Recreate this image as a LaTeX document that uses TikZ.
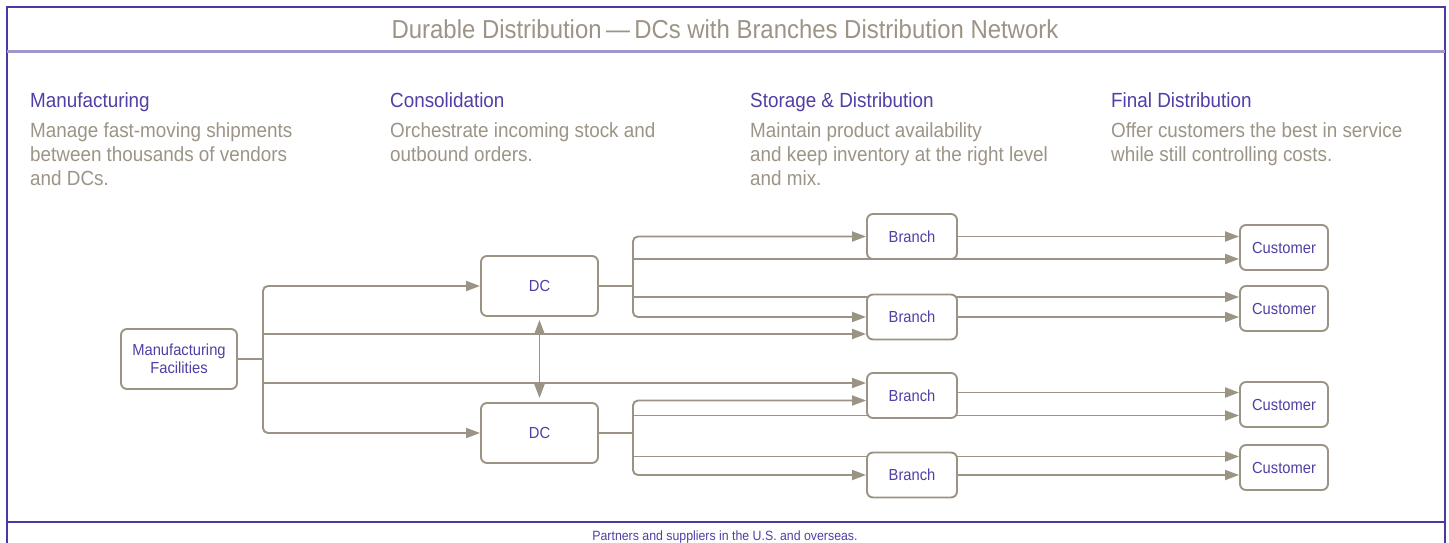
\documentclass[tikz,border=0pt]{standalone}
\usepackage{fontspec}
\setmainfont[FakeStretch=0.92]{Liberation Sans}
\usetikzlibrary{arrows.meta,calc}
\definecolor{framepurple}{RGB}{76,56,164}
\definecolor{lightpurple}{RGB}{160,150,204}
\definecolor{txtpurple}{RGB}{82,62,165}
\definecolor{warmgray}{RGB}{156,148,134}
\definecolor{linegray}{RGB}{155,147,132}
\pgfdeclarelayer{back}
\pgfdeclarelayer{bg}
\pgfsetlayers{back,bg,main}
\begin{document}
\begin{tikzpicture}[x=1pt,y=-1pt,
  box/.style={draw=linegray, line width=1.9pt, rounded corners=6pt, fill=white, text=txtpurple,
    font=\fontsize{16}{18}\selectfont, align=center, inner sep=0pt},
  dcbox/.style={box, minimum width=117pt, minimum height=60pt},
  brbox/.style={box, minimum width=90pt, minimum height=45pt},
  cubox/.style={box, minimum width=88pt, minimum height=45pt},
  conn/.style={draw=linegray, line width=1.9pt},
  arr/.style={conn, -{Triangle[length=14pt,width=10pt]}},
  arrboth/.style={conn, {Triangle[length=14pt,width=10pt]}-{Triangle[length=14pt,width=10pt]}},
  framel/.style={draw=framepurple, line width=1.6pt},
  headtxt/.style={anchor=base west, inner sep=0pt, text=txtpurple, font=\fontsize{20.5}{24}\selectfont},
  bodytxt/.style={anchor=base west, inner sep=0pt, text=warmgray, font=\fontsize{20.5}{24}\selectfont}
]
\useasboundingbox (0,0) rectangle (1449,543);
\begin{pgfonlayer}{back}
\fill[white] (0,0) rectangle (1449,543);
\end{pgfonlayer}

% frame
\draw[framel] (6.7,543) -- (6.7,7.3) -- (1445,7.3) -- (1445,543);
\draw[draw=lightpurple, line width=3pt] (6.7,52) -- (1445,52);
\draw[framel] (6.7,522) -- (1445,522);

% title and footer
\node[inner sep=0pt, text=warmgray, font=\fontsize{26}{30}\selectfont] (title) at (725,29.5)
  {Durable Distribution\,—\,DCs with Branches Distribution Network};
\node[anchor=base, inner sep=0pt, text=txtpurple, font=\fontsize{13.4}{16}\selectfont] (footer) at (725,540.5)
  {Partners and suppliers in the U.S. and overseas.};

% column texts
\node[headtxt] (h1) at (30,107.3) {Manufacturing};
\node[bodytxt] (p11) at (30,137.3) {Manage fast-moving shipments};
\node[bodytxt] (p12) at (30,161.5) {between thousands of vendors};
\node[bodytxt] (p13) at (30,185.5) {and DCs.};

\node[headtxt] (h2) at (390,107.3) {Consolidation};
\node[bodytxt] (p21) at (390,137.3) {Orchestrate incoming stock and};
\node[bodytxt] (p22) at (390,161.5) {outbound orders.};

\node[headtxt] (h3) at (750,107.3) {Storage \& Distribution};
\node[bodytxt] (p31) at (750,137.3) {Maintain product availability};
\node[bodytxt] (p32) at (750,161.5) {and keep inventory at the right level};
\node[bodytxt] (p33) at (750,185.5) {and mix.};

\node[headtxt] (h4) at (1111,107.3) {Final Distribution};
\node[bodytxt] (p41) at (1111,137.3) {Offer customers the best in service};
\node[bodytxt] (p42) at (1111,161.5) {while still controlling costs.};

% nodes
\node[box, minimum width=116pt, minimum height=60pt] (mf) at (179,359) {Manufacturing\\Facilities};
\node[dcbox] (dc1) at (539.5,286) {DC};
\node[dcbox] (dc2) at (539.5,433) {DC};
\node[brbox] (b1) at (912,236.5) {Branch};
\node[brbox] (b2) at (912,317) {Branch};
\node[brbox] (b3) at (912,395.5) {Branch};
\node[brbox] (b4) at (912,475) {Branch};
\node[cubox] (c1) at (1284,247.5) {Customer};
\node[cubox] (c2) at (1284,308.5) {Customer};
\node[cubox] (c3) at (1284,404.5) {Customer};
\node[cubox] (c4) at (1284,467.5) {Customer};

% helper coordinates
\coordinate (mt) at ($(mf.east)+(25,0)$);
\coordinate (d1t) at ($(dc1.east)+(34,0)$);
\coordinate (d2t) at ($(dc2.east)+(34,0)$);
\coordinate (b2m) at ($(b2.west)+(0,17)$);
\coordinate (b3m) at ($(b3.west)+(0,-12.5)$);
\coordinate (b3d) at ($(b3.west)+(0,5)$);
\coordinate (b3r) at ($(b3.east)+(0,-3)$);
\coordinate (c1d) at ($(c1.west)+(0,11.5)$);
\coordinate (c2d) at ($(c2.west)+(0,-11.5)$);
\coordinate (c3d) at ($(c3.west)+(0,11)$);
\coordinate (c4d) at ($(c4.west)+(0,-11)$);

\begin{pgfonlayer}{bg}
% manufacturing fan
\draw[conn] (mf.east) -- (mt);
\draw[arr, rounded corners=5pt] (mt) |- (dc1.west);
\draw[arr, rounded corners=5pt] (mt) |- (dc2.west);
\draw[arr] (mt |- b2m) -- (b2m);
\draw[arr] (mt |- b3m) -- (b3m);
% DC1 fan
\draw[conn] (dc1.east) -- (d1t);
\draw[arr, rounded corners=5pt] (d1t) |- (b1.west);
\draw[arr, rounded corners=5pt] (d1t) |- (b2.west);
\draw[arr] (d1t |- c1d) -- (c1d);
\draw[arr] (d1t |- c2d) -- (c2d);
% DC2 fan
\draw[conn] (dc2.east) -- (d2t);
\draw[arr, rounded corners=5pt] (d2t) |- (b3d);
\draw[arr, rounded corners=5pt] (d2t) |- (b4.west);
\draw[arr] (d2t |- c3d) -- (c3d);
\draw[arr] (d2t |- c4d) -- (c4d);
% branches to customers
\draw[arr] (b1.east) -- (c1.west |- b1.east);
\draw[arr] (b2.east) -- (c2.west |- b2.east);
\draw[arr] (b3r) -- (c3.west |- b3r);
\draw[arr] (b4.east) -- (c4.west |- b4.east);
% DC to DC
\draw[arrboth, shorten <=3pt, shorten >=4pt] (dc1.south) -- (dc2.north);
\end{pgfonlayer}
\end{tikzpicture}
\end{document}
